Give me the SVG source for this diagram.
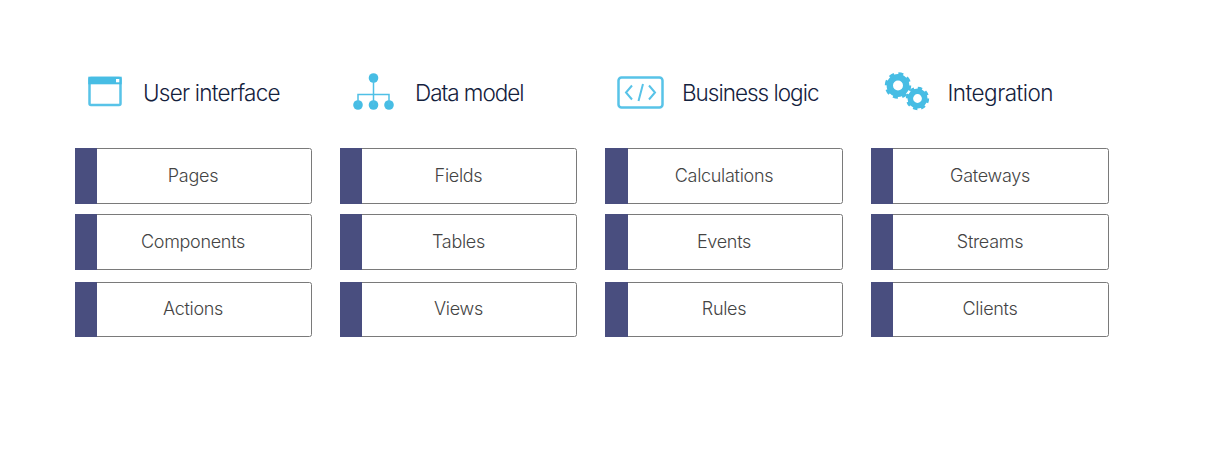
<svg xmlns="http://www.w3.org/2000/svg" width="1213" height="456" viewBox="0 0 1213 456">
<style>
.h{font-family:Inter,"Noto Sans",sans-serif;font-size:22.5px;font-weight:300;fill:#14213d;letter-spacing:-0.5px}
.t{font-family:Inter,"Noto Sans",sans-serif;font-size:18px;font-weight:300;fill:#444;text-anchor:middle;letter-spacing:-0.3px}
.b{fill:#fff;stroke:#7a7a7a;stroke-width:1}
.s{fill:#494e7f}
.i{fill:none;stroke:#58c3e8;stroke-width:2.500}
.f{fill:#47bde4}
</style>
<rect width="1213" height="456" fill="#fff"/>
<defs>
<g id="gear1"><circle r="8.200" fill="none" stroke="#47bde4" stroke-width="6.400"/><circle r="11" fill="none" stroke="#47bde4" stroke-width="4.500" stroke-dasharray="4.6 4.04"/></g>
</defs>
<g id="connectors"></g>
<g id="head-ui">
<rect x="89.500" y="78" width="31" height="27" rx="1.500" class="i"/>
<rect x="88.300" y="76.700" width="33.400" height="7.600" class="f"/>
<rect x="116" y="79" width="3.300" height="3.300" fill="#fff"/>
<text class="h" x="143" y="101" textLength="137" lengthAdjust="spacing">User interface</text>
</g>
<g id="head-data">
<circle cx="373.500" cy="78" r="4.800" class="f"/>
<circle cx="358" cy="105" r="4.800" class="f"/>
<circle cx="373.500" cy="105" r="4.800" class="f"/>
<circle cx="389" cy="105" r="4.800" class="f"/>
<path d="M373.500 80V105M358 105V94.500H389V105" fill="none" stroke="#4fc0e6" stroke-width="1.500"/>
<text class="h" x="415" y="101" textLength="109" lengthAdjust="spacing">Data model</text>
</g>
<g id="head-logic">
<rect x="618.500" y="77.500" width="44" height="30" rx="3" class="i"/>
<path d="M632 85.500L626 92.500L632 99.500M649 85.500L655 92.500L649 99.500M643 84L638.500 101" fill="none" stroke="#58c3e8" stroke-width="2"/>
<text class="h" x="682" y="101" textLength="137" lengthAdjust="spacing">Business logic</text>
</g>
<g id="head-integration">
<use href="#gear1" transform="translate(898 85.500)"/>
<use href="#gear1" transform="translate(917.500 98.500) scale(.88)"/>
<text class="h" x="947.500" y="101" textLength="105.500" lengthAdjust="spacing">Integration</text>
</g>
<g id="n-pages"><rect class="b" x="75.500" y="148.500" width="236" height="55" rx="2"/><rect class="s" x="75" y="148" width="22" height="56"/><text class="t" x="193" y="182">Pages</text></g>
<g id="n-components"><rect class="b" x="75.500" y="214.500" width="236" height="55" rx="2"/><rect class="s" x="75" y="214" width="22" height="56"/><text class="t" x="193" y="248">Components</text></g>
<g id="n-actions"><rect class="b" x="75.500" y="282.500" width="236" height="54" rx="2"/><rect class="s" x="75" y="282" width="22" height="55"/><text class="t" x="193" y="315">Actions</text></g>
<g id="n-fields"><rect class="b" x="340.500" y="148.500" width="236" height="55" rx="2"/><rect class="s" x="340" y="148" width="22" height="56"/><text class="t" x="458.500" y="182">Fields</text></g>
<g id="n-tables"><rect class="b" x="340.500" y="214.500" width="236" height="55" rx="2"/><rect class="s" x="340" y="214" width="22" height="56"/><text class="t" x="458.500" y="248">Tables</text></g>
<g id="n-views"><rect class="b" x="340.500" y="282.500" width="236" height="54" rx="2"/><rect class="s" x="340" y="282" width="22" height="55"/><text class="t" x="458.500" y="315">Views</text></g>
<g id="n-calculations"><rect class="b" x="605.500" y="148.500" width="237" height="55" rx="2"/><rect class="s" x="605" y="148" width="23" height="56"/><text class="t" x="724" y="182">Calculations</text></g>
<g id="n-events"><rect class="b" x="605.500" y="214.500" width="237" height="55" rx="2"/><rect class="s" x="605" y="214" width="23" height="56"/><text class="t" x="724" y="248">Events</text></g>
<g id="n-rules"><rect class="b" x="605.500" y="282.500" width="237" height="54" rx="2"/><rect class="s" x="605" y="282" width="23" height="55"/><text class="t" x="724" y="315">Rules</text></g>
<g id="n-gateways"><rect class="b" x="871.500" y="148.500" width="237" height="55" rx="2"/><rect class="s" x="871" y="148" width="22" height="56"/><text class="t" x="990" y="182">Gateways</text></g>
<g id="n-streams"><rect class="b" x="871.500" y="214.500" width="237" height="55" rx="2"/><rect class="s" x="871" y="214" width="22" height="56"/><text class="t" x="990" y="248">Streams</text></g>
<g id="n-clients"><rect class="b" x="871.500" y="282.500" width="237" height="54" rx="2"/><rect class="s" x="871" y="282" width="22" height="55"/><text class="t" x="990" y="315">Clients</text></g>
</svg>
